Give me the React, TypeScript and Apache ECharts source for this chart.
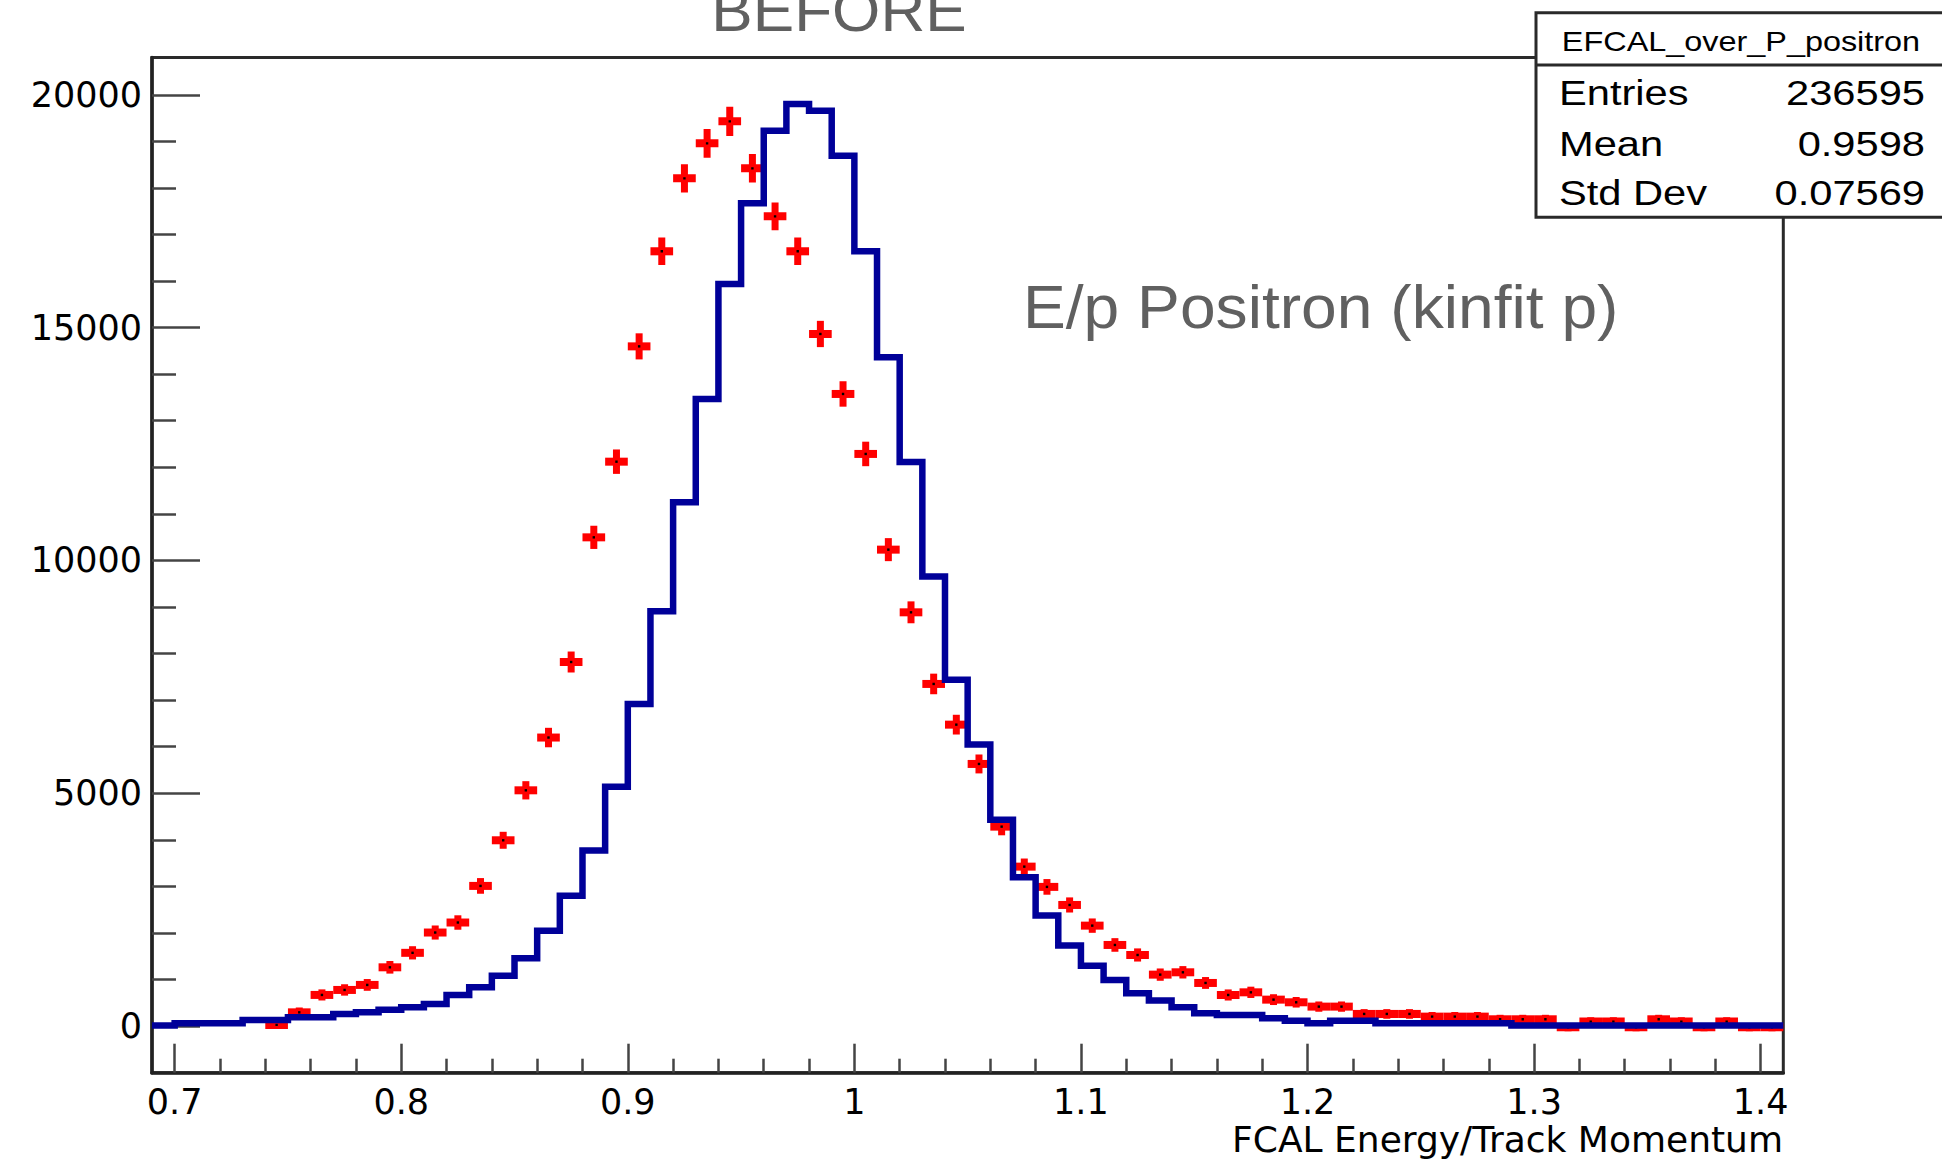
import React, { useEffect, useRef } from "react";
import * as echarts from "echarts";

// ---- axis ranges / bins ----
const binStart = 0.69;
const binWidth = 0.01;
const xMin = 0.69;
const xMax = 1.41;
const yMin = -1000;
const yMax = 20800;

const xMajorTicks = [0.7, 0.8, 0.9, 1, 1.1, 1.2, 1.3, 1.4];
const xMinorTicks = [
  0.72, 0.74, 0.76, 0.78, 0.82, 0.84, 0.86, 0.88, 0.92, 0.94, 0.96, 0.98,
  1.02, 1.04, 1.06, 1.08, 1.12, 1.14, 1.16, 1.18, 1.22, 1.24, 1.26, 1.28,
  1.32, 1.34, 1.36, 1.38,
];
const yMajorTicks = [0, 5000, 10000, 15000, 20000];
const yMinorTicks = [
  1000, 2000, 3000, 4000, 6000, 7000, 8000, 9000, 11000, 12000, 13000, 14000,
  16000, 17000, 18000, 19000,
];

// ---- blue histogram (72 bins, 0.69 .. 1.41) ----
const blueCounts = [
  11, 60, 60, 60, 133, 133, 189, 189, 262, 296,
  354, 404, 476, 670, 833, 1084, 1460, 2050, 2800, 3770,
  5140, 6915, 8910, 11248, 13468, 15937, 17668, 19229, 19802, 19659,
  18692, 16638, 14361, 12115, 9655, 7440, 6050, 4430, 3196, 2373,
  1729, 1299, 991, 705, 548, 404, 275, 240, 240, 168,
  118, 60, 118, 118, 60, 60, 60, 60, 60, 60,
  11, 11, 11, 11, 11, 11, 11, 11, 11, 11,
  11, 11,
];

// ---- red data points (72 bins, null = empty) ----
const redCounts = [
  null, null, null, null, null, 26, 296, 670, 777, 885,
  1263, 1574, 2010, 2225, 3011, 3991, 5064, 6197, 7819, 10496,
  12121, 14597, 16638, 18205, 18957, 19429, 18420, 17389, 16638, 14863,
  13575, 12287, 10232, 8886, 7348, 6474, 5630, 4284, 3425, 2990,
  2602, 2158, 1743, 1528, 1106, 1156, 927, 669, 726, 569,
  512, 419, 419, 262, 262, 262, 204, 204, 204, 147,
  147, 147, -25, 97, 97, -25, 147, 97, -25, 97,
  -25, -25,
];
const redErrors = [
  0, 0, 0, 0, 0, 9, 29, 44, 47, 51,
  60, 67, 76, 80, 93, 107, 121, 134, 150, 174,
  187, 205, 219, 229, 234, 237, 231, 224, 219, 207,
  198, 188, 172, 160, 146, 137, 128, 111, 99, 93,
  87, 79, 71, 66, 57, 58, 52, 44, 46, 41,
  38, 35, 35, 28, 28, 28, 24, 24, 24, 21,
  21, 21, 10, 17, 17, 10, 21, 17, 10, 17,
  10, 10,
];

// ---- texts ----
const titleText = "BEFORE";
const annotationText = "E/p Positron (kinfit p)";
const xAxisTitle = "FCAL Energy/Track Momentum";
const statsName = "EFCAL_over_P_positron";
const statsLabels = ["Entries", "Mean", "Std Dev"];
const statsValues = ["236595", "0.9598", "0.07569"];

const App: React.FC = () => {
  const ref = useRef<HTMLDivElement>(null);

  useEffect(() => {
    if (!ref.current) return;
    const chart = echarts.init(ref.current, null, { renderer: "svg" });

    const blueData: number[][] = blueCounts.map((v, i) => [
      +(binStart + i * binWidth).toFixed(4),
      v,
    ]);
    blueData.push([xMax, blueCounts[blueCounts.length - 1]]);

    const redData: number[][] = [];
    redCounts.forEach((v, i) => {
      if (v === null) return;
      redData.push([+(binStart + (i + 0.5) * binWidth).toFixed(4), v, redErrors[i]]);
    });

    const tickColor = "#444";
    const gray = "#606060";
    const statsFont = "Liberation Sans";
    const statsRowY = [93, 144, 192.5];

    const graphics: any[] = [
      {
        type: "text",
        x: 839,
        y: 10.8,
        scaleX: 1.035,
        z: 100,
        style: {
          text: titleText,
          fontFamily: "Liberation Sans",
          fontSize: 60,
          fill: gray,
          textAlign: "center",
          textVerticalAlign: "middle",
        },
      },
      {
        type: "text",
        x: 1023,
        y: 306,
        scaleX: 1.035,
        z: 100,
        style: {
          text: annotationText,
          fontFamily: "Liberation Sans",
          fontSize: 62,
          fill: gray,
          textAlign: "left",
          textVerticalAlign: "middle",
        },
      },
      {
        type: "text",
        x: 1783,
        y: 1139,
        z: 100,
        style: {
          text: xAxisTitle,
          fontFamily: "DejaVu Sans",
          fontSize: 36,
          lineHeight: 34,
          fill: "#000",
          textAlign: "right",
          textVerticalAlign: "middle",
        },
      },
      {
        type: "rect",
        z: 100,
        shape: { x: 1536, y: 12.7, width: 420, height: 204.6 },
        style: { fill: "#fff", stroke: "#2a2a2a", lineWidth: 3 },
      },
      {
        type: "line",
        z: 101,
        shape: { x1: 1536, y1: 65, x2: 1950, y2: 65 },
        style: { stroke: "#2a2a2a", lineWidth: 3 },
      },
      {
        type: "text",
        x: 1741,
        y: 41,
        scaleX: 1.2,
        z: 102,
        style: {
          text: statsName,
          fontFamily: statsFont,
          fontSize: 27,
          fill: "#000",
          textAlign: "center",
          textVerticalAlign: "middle",
        },
      },
    ];
    statsLabels.forEach((lab, i) => {
      graphics.push({
        type: "text",
        x: 1559,
        y: statsRowY[i],
        scaleX: 1.19,
        z: 102,
        style: {
          text: lab,
          fontFamily: statsFont,
          fontSize: 35,
          fill: "#000",
          textAlign: "left",
          textVerticalAlign: "middle",
        },
      });
      graphics.push({
        type: "text",
        x: 1925,
        y: statsRowY[i],
        scaleX: 1.19,
        z: 102,
        style: {
          text: statsValues[i],
          fontFamily: statsFont,
          fontSize: 35,
          fill: "#000",
          textAlign: "right",
          textVerticalAlign: "middle",
        },
      });
    });

    const option: any = {
      animation: false,
      backgroundColor: "#fff",
      textStyle: { fontFamily: "DejaVu Sans" },
      grid: {
        left: 152,
        right: 158.7,
        top: 57.5,
        bottom: 95.3,
        show: true,
        borderColor: "#2a2a2a",
        borderWidth: 3,
        backgroundColor: "transparent",
        containLabel: false,
      },
      xAxis: [
        {
          type: "value",
          min: xMin,
          max: xMax,
          position: "bottom",
          axisLine: { show: true, onZero: false, lineStyle: { color: "#222", width: 3.5 } },
          axisTick: {
            show: true,
            inside: true,
            length: 29,
            customValues: xMajorTicks,
            lineStyle: { color: tickColor, width: 2.5 },
          },
          axisLabel: {
            show: true,
            customValues: xMajorTicks,
            formatter: (v: number) => String(v),
            fontFamily: "DejaVu Sans",
            fontSize: 35,
            lineHeight: 30,
            color: "#000",
            margin: 14,
          },
          splitLine: { show: false },
        },
        {
          type: "value",
          min: xMin,
          max: xMax,
          position: "bottom",
          axisLine: { show: false, onZero: false },
          axisTick: {
            show: true,
            inside: true,
            length: 14,
            customValues: xMinorTicks,
            lineStyle: { color: tickColor, width: 2.5 },
          },
          axisLabel: { show: false },
          splitLine: { show: false },
        },
      ],
      yAxis: [
        {
          type: "value",
          min: yMin,
          max: yMax,
          position: "left",
          axisLine: { show: true, onZero: false, lineStyle: { color: "#222", width: 3.5 } },
          axisTick: {
            show: true,
            inside: true,
            length: 48,
            customValues: yMajorTicks,
            lineStyle: { color: tickColor, width: 2.5 },
          },
          axisLabel: {
            show: true,
            customValues: yMajorTicks,
            formatter: (v: number) => String(v),
            fontFamily: "DejaVu Sans",
            fontSize: 35,
            color: "#000",
            margin: 10,
          },
          splitLine: { show: false },
        },
        {
          type: "value",
          min: yMin,
          max: yMax,
          position: "left",
          axisLine: { show: false, onZero: false },
          axisTick: {
            show: true,
            inside: true,
            length: 24,
            customValues: yMinorTicks,
            lineStyle: { color: tickColor, width: 2.5 },
          },
          axisLabel: { show: false },
          splitLine: { show: false },
        },
      ],
      series: [
        {
          type: "custom",
          name: "data",
          coordinateSystem: "cartesian2d",
          xAxisIndex: 0,
          yAxisIndex: 0,
          clip: true,
          z: 3,
          encode: { x: 0, y: 1 },
          data: redData,
          renderItem: (params: any, api: any) => {
            const x = api.value(0);
            const v = api.value(1);
            const e = api.value(2);
            const pL = api.coord([x - binWidth / 2, v]);
            const pR = api.coord([x + binWidth / 2, v]);
            const pT = api.coord([x, v + e]);
            const pB = api.coord([x, v - e]);
            const pC = api.coord([x, v]);
            return {
              type: "group",
              children: [
                {
                  type: "line",
                  shape: { x1: pL[0], y1: pL[1], x2: pR[0], y2: pR[1] },
                  style: { stroke: "#ff0000", lineWidth: 8, lineCap: "butt" },
                },
                {
                  type: "line",
                  shape: { x1: pT[0], y1: pT[1], x2: pB[0], y2: pB[1] },
                  style: { stroke: "#ff0000", lineWidth: 7, lineCap: "square" },
                },
                {
                  type: "rect",
                  shape: { x: pC[0] - 1.2, y: pC[1] - 1.2, width: 2.4, height: 2.4 },
                  style: { fill: "#000" },
                },
              ],
            };
          },
        },
        {
          type: "line",
          name: "hist",
          xAxisIndex: 0,
          yAxisIndex: 0,
          step: "end",
          symbol: "none",
          showSymbol: false,
          clip: true,
          z: 5,
          data: blueData,
          lineStyle: { color: "#000099", width: 6.5, join: "miter", cap: "butt" },
          emphasis: { disabled: true },
        },
      ],
      graphic: graphics,
    };

    chart.setOption(option);
    return () => {
      chart.dispose();
    };
  }, []);

  return (
    <div
      ref={ref}
      style={{ position: "absolute", left: 0, top: 0, width: 1942, height: 1168 }}
    />
  );
};

export default App;
